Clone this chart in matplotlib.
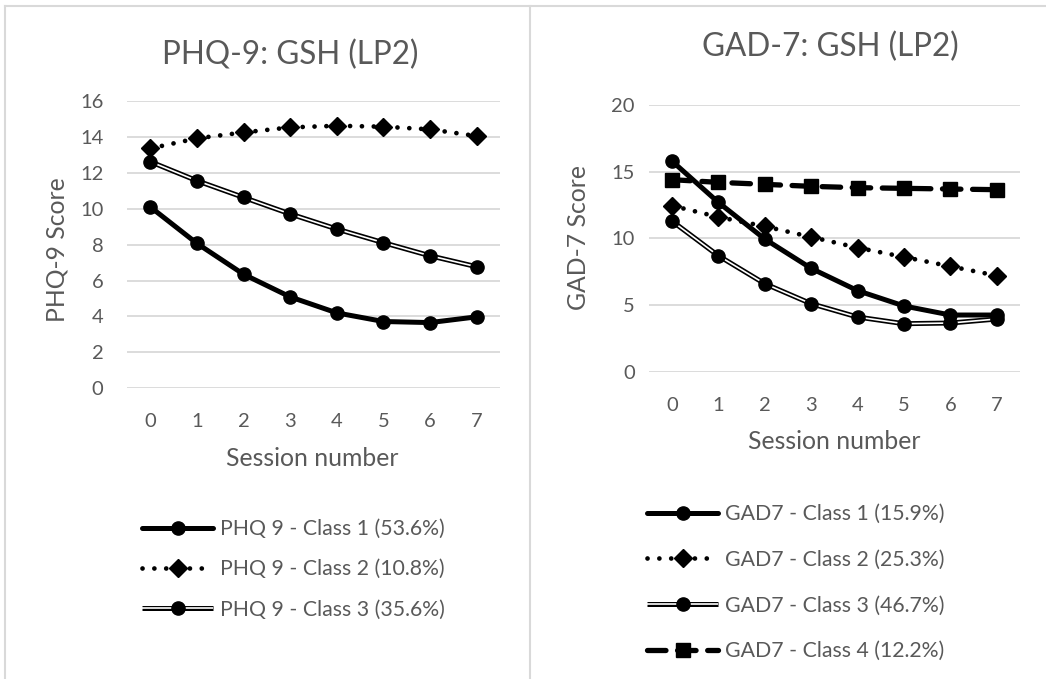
import matplotlib
matplotlib.use("Agg")
import matplotlib.pyplot as plt
from matplotlib.lines import Line2D
from matplotlib.legend_handler import HandlerTuple

plt.rcParams['font.family'] = ['Lato', 'DejaVu Sans']

sessions = [0, 1, 2, 3, 4, 5, 6, 7]

phq_c1 = [10.1, 8.07, 6.35, 5.09, 4.2, 3.72, 3.66, 3.98]
phq_c2 = [13.36, 13.92, 14.25, 14.53, 14.62, 14.57, 14.42, 14.05]
phq_c3 = [12.62, 11.56, 10.63, 9.71, 8.87, 8.11, 7.38, 6.77]
phq_labels = ["PHQ 9 - Class 1 (53.6%)", "PHQ 9 - Class 2 (10.8%)",
              "PHQ 9 - Class 3 (35.6%)"]

gad_c1 = [15.8, 12.7, 9.95, 7.75, 6.08, 4.93, 4.25, 4.25]
gad_c2 = [12.45, 11.6, 10.9, 10.1, 9.3, 8.6, 7.9, 7.2]
gad_c3 = [11.3, 8.7, 6.6, 5.1, 4.1, 3.6, 3.65, 3.95]
gad_c4 = [14.4, 14.2, 14.05, 13.9, 13.8, 13.75, 13.7, 13.65]
gad_labels = ["GAD7 - Class 1 (15.9%)", "GAD7 - Class 2 (25.3%)",
              "GAD7 - Class 3 (46.7%)", "GAD7 - Class 4 (12.2%)"]

TXT = '#595959'
GRID = '#d9d9d9'
TICK_FS = 14.5
LEG_FS = 15.3
LAB_FS = 17.8
TITLE_FS = 22.7

fig = plt.figure(figsize=(10.46, 6.79), dpi=100)

# panel borders (screenshot of two excel charts)
for xs, ys in [([5/1046, 1], [1-6/679, 1-6/679]),
               ([5/1046, 5/1046], [0, 1-6/679]),
               ([530/1046, 530/1046], [0, 1-6/679])]:
    fig.add_artist(Line2D(xs, ys, color=GRID, lw=1.5, transform=fig.transFigure))


def style_axes(ax, ymax, ystep, xpad, ypad):
    ax.set_xlim(-0.5, 7.5)
    ax.set_ylim(0, ymax)
    ax.set_yticks(range(0, ymax + 1, ystep))
    ax.set_xticks(sessions)
    for s in ax.spines.values():
        s.set_visible(False)
    ax.grid(axis='y', color=GRID, lw=1.3)
    ax.set_axisbelow(True)
    ax.tick_params(axis='both', length=0, labelsize=TICK_FS, labelcolor=TXT)
    ax.tick_params(axis='x', pad=xpad)
    ax.tick_params(axis='y', pad=ypad)


def solid(ax, y):
    return ax.plot(sessions, y, color='black', lw=3.6, marker='o', ms=9.5,
                   solid_capstyle='round', zorder=4)[0]


def dotted(ax, y):
    return ax.plot(sessions, y, color='black', lw=3.4, ls=(0, (0.01, 2.5)),
                   dash_capstyle='round', marker='D', ms=9.5, zorder=3)[0]


def double(ax, y):
    a = ax.plot(sessions, y, color='black', lw=3.6, solid_capstyle='butt', zorder=3)[0]
    b = ax.plot(sessions, y, color='white', lw=1.2, solid_capstyle='butt', zorder=3)[0]
    c = ax.plot(sessions, y, ls='none', color='black', marker='o', ms=9.5, zorder=3)[0]
    return (a, b, c)


def dashed(ax, y):
    return ax.plot(sessions, y, color='black', lw=3.8, ls=(0, (3.5, 2.2)),
                   dash_capstyle='round', marker='s', ms=10, zorder=3)[0]


def legend(ax, handles, labels, x, y, spacing):
    ax.legend(handles, labels, loc='upper left', bbox_to_anchor=(x/1046, 1-y/679),
              bbox_transform=fig.transFigure, frameon=False, fontsize=LEG_FS,
              labelcolor=TXT, handlelength=3.35, handletextpad=0.3,
              labelspacing=spacing, borderpad=0, borderaxespad=0,
              handler_map={tuple: HandlerTuple(ndivide=1)})


# left: PHQ-9
ax1 = fig.add_axes([127/1046, 1-388.3/679, 373/1046, 287.3/679])
style_axes(ax1, 16, 2, 18, 17)
h1 = [solid(ax1, phq_c1), dotted(ax1, phq_c2), double(ax1, phq_c3)]
legend(ax1, h1, phq_labels, 142, 519, 0.95)

# right: GAD-7
ax2 = fig.add_axes([648.7/1046, 1-371.7/679, 371.3/1046, 266.7/679])
style_axes(ax2, 20, 5, 18.5, 10)
h2 = [solid(ax2, gad_c1), dotted(ax2, gad_c2), double(ax2, gad_c3), dashed(ax2, gad_c4)]
legend(ax2, h2, gad_labels, 647, 504, 1.21)

# titles and axis labels
fig.text(290/1046, 1-55/679, "PHQ-9: GSH (LP2)", ha='center', va='center',
         fontsize=TITLE_FS, color=TXT)
fig.text(830/1046, 1-47/679, "GAD-7: GSH (LP2)", ha='center', va='center',
         fontsize=TITLE_FS, color=TXT)
fig.text(57/1046, 1-250/679, "PHQ-9 Score", rotation=90, ha='center', va='center',
         fontsize=LAB_FS, color=TXT)
fig.text(578.7/1046, 1-238/679, "GAD-7 Score", rotation=90, ha='center', va='center',
         fontsize=LAB_FS, color=TXT)
fig.text(312.5/1046, 1-458/679, "Session number", ha='center', va='center',
         fontsize=LAB_FS, color=TXT)
fig.text(834.5/1046, 1-441.7/679, "Session number", ha='center', va='center',
         fontsize=LAB_FS, color=TXT)

fig.savefig("out.png", dpi=100)
